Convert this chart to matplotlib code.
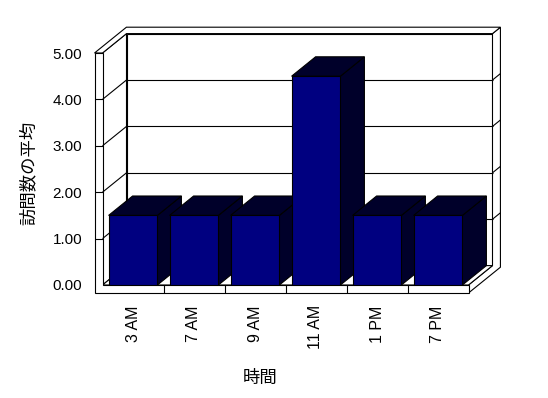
import matplotlib
matplotlib.use("Agg")
import matplotlib.pyplot as plt
from matplotlib.patches import Polygon

plt.rcParams['font.family'] = ['Liberation Sans', 'Noto Sans CJK JP']

# データ
hours = ['3 AM', '7 AM', '9 AM', '11 AM', '1 PM', '7 PM']
avg_visits = [1.5, 1.5, 1.5, 4.5, 1.5, 1.5]
y_ticks = [0, 1, 2, 3, 4, 5]

W, H = 548, 398
fig = plt.figure(figsize=(W / 100, H / 100), dpi=100)
ax = fig.add_axes([102.5 / W, 1 - 285 / H, 366 / W, 232 / H])
ax.set_xlim(-0.5, len(hours) - 0.5)
ax.set_ylim(0, y_ticks[-1])

# 奥行き方向のずらし量 (データ単位)
DX, DY = 24 / 61, 19.4 / 46.4
WALL = 8 / 61        # 左壁の厚さ
FLOOR = 8 / 46.4     # 床の厚さ
ZB = 1.33            # 奥の壁の裏側
BAR_W = 0.8
SIDE = '#00002a'
FRONT = '#000080'


def P(x, y, z):
    return (x + DX * z, y + DY * z)


def face(pts, fc='white', zorder=1):
    ax.add_patch(Polygon([P(*p) for p in pts], closed=True, facecolor=fc,
                         edgecolor='black', lw=0.8, zorder=zorder,
                         clip_on=False, joinstyle='miter'))


def seg(p, q, zorder=2):
    a, b = P(*p), P(*q)
    ax.plot([a[0], b[0]], [a[1], b[1]], color='black', lw=0.8,
            zorder=zorder, clip_on=False, solid_capstyle='butt')


xl0, xl1, xr = -0.5 - WALL, -0.5, len(hours) - 0.5
top, yb = y_ticks[-1], -FLOOR

# 壁と床
face([(xl1, 0, 1), (xr, 0, 1), (xr, top, 1), (xl1, top, 1)])
face([(xr, yb, 0), (xr, yb, ZB), (xr, top, ZB), (xr, top, 1), (xr, 0, 1), (xr, 0, 0)])
face([(xl1, 0, 0), (xl1, 0, 1), (xl1, top, 1), (xl1, top, 0)])
face([(xl0, top, 0), (xl1, top, 0), (xl1, top, 1), (xr, top, 1), (xr, top, ZB), (xl0, top, ZB)])
face([(xl1, 0, 0), (xr, 0, 0), (xr, 0, 1), (xl1, 0, 1)])
face([(xl0, yb, 0), (xr, yb, 0), (xr, 0, 0), (xl1, 0, 0), (xl1, top, 0), (xl0, top, 0)])

# 目盛線
for v in y_ticks[1:-1]:
    seg((xl0, v, 0), (xl1, v, 0))
    seg((xl1, v, 0), (xl1, v, 1))
    seg((xl1, v, 1), (xr, v, 1))
    seg((xr, v, 1), (xr, v, ZB))
for k in range(1, len(hours)):
    seg((k - 0.5, yb, 0), (k - 0.5, 0, 0))

# 3D 棒
for i, v in enumerate(avg_visits):
    x0, x1 = i - BAR_W / 2, i + BAR_W / 2
    z = 10 + 2 * i
    face([(x1, 0, 0), (x1, 0, 1), (x1, v, 1), (x1, v, 0)], fc=SIDE, zorder=z)
    face([(x0, v, 0), (x1, v, 0), (x1, v, 1), (x0, v, 1)], fc=SIDE, zorder=z)
    ax.bar(i, v, width=BAR_W, color=FRONT, edgecolor='black', lw=0.8, zorder=z + 1)

ax.set_xticks(range(len(hours)), hours, rotation=90)
ax.set_yticks(y_ticks, [f'{t:.2f}' for t in y_ticks])
ax.tick_params(axis='both', length=0)
ax.tick_params(axis='x', pad=14.5, labelsize=11.5)
ax.tick_params(axis='y', pad=14.5, labelsize=11)
for s in ax.spines.values():
    s.set_visible(False)
ax.patch.set_visible(False)

fig.text(28 / W, 1 - 173 / H, '訪問数の平均', rotation=90, ha='center', va='center', fontsize=12.5)
fig.text(260 / W, 1 - 378 / H, '時間', ha='center', va='center', fontsize=12.5)

fig.savefig('out.png', dpi=100)
